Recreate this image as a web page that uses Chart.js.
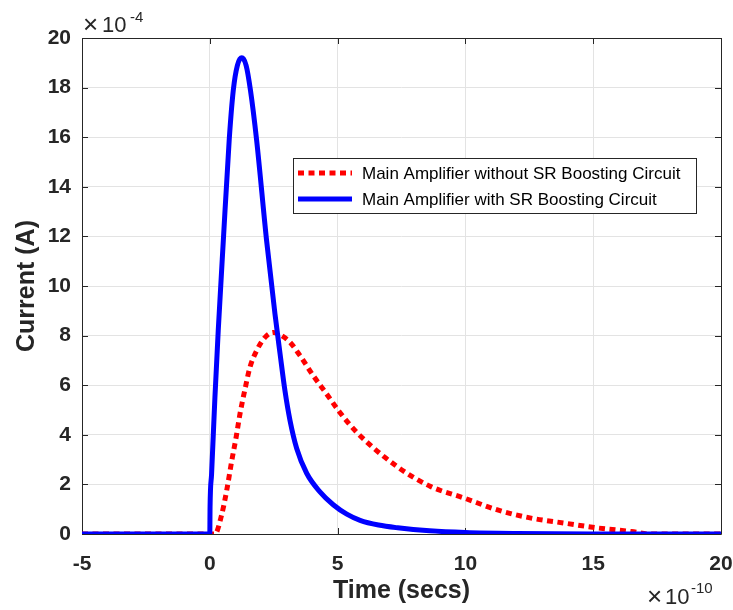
<!DOCTYPE html>
<html>
<head>
<meta charset="utf-8">
<script src="https://cdn.jsdelivr.net/npm/chart.js@4.4.0/dist/chart.umd.js"></script>
<style>
  html, body { margin: 0; padding: 0; background: #fff; }
  canvas { display: block; }
</style>
</head>
<body>
<canvas id="c" width="733" height="610"></canvas>
<script>
// time in units of 1e-10 s, current in units of 1e-4 A
const timeWithout = [-5, 0.2, 0.47, 0.66, 0.86, 1.03, 1.18, 1.38, 1.57, 1.83, 2.16, 2.49, 2.81, 3.14, 3.53, 4.05, 4.57, 5.09, 5.75, 7.34, 8.65, 9.95, 11.26, 12.57, 13.87, 15.2, 16.5, 17.2, 20];
const currentWithout = [0, 0, 0.8, 1.75, 2.96, 3.9, 4.84, 5.85, 6.72, 7.39, 7.93, 8.13, 8.0, 7.73, 7.19, 6.38, 5.65, 4.9, 4.1, 2.71, 1.91, 1.45, 0.97, 0.64, 0.44, 0.24, 0.1, 0, 0];

const timeWith = [-5, 0, 0.01, 0.07, 0.2, 0.33, 0.53, 0.76, 0.92, 1.08, 1.25, 1.42, 1.59, 1.83, 2.22, 2.55, 2.75, 2.94, 3.14, 3.4, 3.79, 4.31, 4.83, 5.36, 5.88, 6.6, 7.35, 8.6, 10, 12, 15, 20];
const currentWith = [0, 0, 1.08, 2.42, 5.5, 8.2, 11.85, 15.9, 17.9, 18.9, 19.2, 18.9, 17.9, 15.9, 11.85, 8.87, 7.26, 5.78, 4.57, 3.45, 2.45, 1.7, 1.18, 0.8, 0.55, 0.36, 0.25, 0.13, 0.06, 0.02, 0, 0];

const seriesLabels = ['Main Amplifier without SR Boosting Circuit', 'Main Amplifier with SR Boosting Circuit'];
const xTicks = [-5, 0, 5, 10, 15, 20];
const yTicks = [0, 2, 4, 6, 8, 10, 12, 14, 16, 18, 20];

const pts = (xs, ys) => xs.map((x, i) => ({ x, y: ys[i] }));
const AX = '#262626';
const FONT = '"Liberation Sans", Arial, Helvetica, sans-serif';

// box, inner ticks, legend and exponent labels, MATLAB style
const matlabBits = {
    id: 'matlabBits',
    beforeDatasetsDraw(chart) {
        const { ctx, chartArea: a, scales: { x, y } } = chart;
        ctx.save();
        ctx.strokeStyle = AX;
        ctx.lineWidth = 1;
        ctx.beginPath();
        ctx.rect(Math.round(a.left) + 0.5, Math.round(a.top) + 0.5, Math.round(a.right - a.left), Math.round(a.bottom - a.top));
        ctx.stroke();
        ctx.beginPath();
        xTicks.forEach((v) => {
            const px = Math.round(x.getPixelForValue(v)) + 0.5;
            ctx.moveTo(px, a.bottom); ctx.lineTo(px, a.bottom - 6);
            ctx.moveTo(px, a.top); ctx.lineTo(px, a.top + 6);
        });
        yTicks.forEach((v) => {
            const py = Math.round(y.getPixelForValue(v)) + 0.5;
            ctx.moveTo(a.left, py); ctx.lineTo(a.left + 6, py);
            ctx.moveTo(a.right, py); ctx.lineTo(a.right - 6, py);
        });
        ctx.stroke();
        ctx.restore();
    },
    afterDatasetsDraw(chart) {
        const { ctx } = chart;
        const bx = 293, by = 158, bw = 403, bh = 55;
        ctx.save();
        ctx.fillStyle = '#fff';
        ctx.fillRect(bx, by, bw, bh);
        ctx.strokeStyle = AX;
        ctx.lineWidth = 1;
        ctx.strokeRect(bx + 0.5, by + 0.5, bw, bh);
        const rows = [173, 199];
        chart.data.datasets.forEach((ds, i) => {
            const ry = rows[i];
            ctx.beginPath();
            ctx.strokeStyle = ds.borderColor;
            ctx.lineWidth = ds.borderWidth;
            ctx.lineCap = 'butt';
            ctx.setLineDash(ds.borderDash || []);
            ctx.moveTo(298, ry); ctx.lineTo(352, ry);
            ctx.stroke();
            ctx.setLineDash([]);
            ctx.fillStyle = '#000';
            ctx.font = `17px ${FONT}`;
            ctx.textBaseline = 'middle';
            ctx.fillText(ds.label, 362, ry + 1);
        });
        ctx.restore();
    },
    afterDraw(chart) {
        const { ctx } = chart;
        ctx.save();
        ctx.fillStyle = AX;
        ctx.textBaseline = 'alphabetic';
        ctx.font = `26px ${FONT}`;
        ctx.fillText('\u00d7', 83, 33);
        ctx.font = `22px ${FONT}`;
        ctx.fillText('10', 102, 32);
        ctx.font = `15px ${FONT}`;
        ctx.fillText('-4', 130, 22);
        ctx.font = `26px ${FONT}`;
        ctx.fillText('\u00d7', 647, 605);
        ctx.font = `22px ${FONT}`;
        ctx.fillText('10', 665, 604);
        ctx.font = `15px ${FONT}`;
        ctx.fillText('-10', 691, 593);
        ctx.restore();
    },
};

new Chart(document.getElementById('c'), {
    type: 'line',
    data: {
        datasets: [
            {
                label: seriesLabels[0],
                data: pts(timeWithout, currentWithout),
                borderColor: '#ff0000',
                borderWidth: 5,
                borderDash: [6, 4.5],
                borderCapStyle: 'butt',
                cubicInterpolationMode: 'monotone',
                pointRadius: 0,
                fill: false,
                order: 2,
            },
            {
                label: seriesLabels[1],
                data: pts(timeWith, currentWith),
                borderColor: '#0000ff',
                borderWidth: 5,
                cubicInterpolationMode: 'monotone',
                pointRadius: 0,
                fill: false,
                order: 1,
            },
        ],
    },
    options: {
        responsive: false,
        animation: false,
        events: [],
        layout: { padding: { top: 38, right: 12, left: 0, bottom: 0 } },
        plugins: { legend: { display: false }, tooltip: { enabled: false } },
        scales: {
            x: {
                type: 'linear', min: -5, max: 20,
                afterBuildTicks: (s) => { s.ticks = xTicks.map((v) => ({ value: v })); },
                afterFit: (s) => { s.height = 76; s.paddingLeft = 0; s.paddingRight = 0; },
                grid: { color: '#e3e3e3', drawTicks: false },
                border: { display: false },
                ticks: { color: AX, padding: 18, maxRotation: 0, font: { family: FONT, size: 21, weight: 'bold' } },
                title: { display: true, text: 'Time (secs)', color: AX, padding: { top: 0, bottom: 4 }, font: { family: FONT, size: 25, weight: 'bold' } },
            },
            y: {
                type: 'linear', min: 0, max: 20,
                afterBuildTicks: (s) => { s.ticks = yTicks.map((v) => ({ value: v })); },
                afterFit: (s) => { s.width = 82; s.paddingTop = 0; s.paddingBottom = 0; },
                grid: { color: '#e3e3e3', drawTicks: false },
                border: { display: false },
                ticks: { color: AX, padding: 11, font: { family: FONT, size: 21, weight: 'bold' } },
                title: { display: true, text: 'Current (A)', color: AX, padding: { top: 12, bottom: 0 }, font: { family: FONT, size: 25, weight: 'bold' } },
            },
        },
    },
    plugins: [matlabBits],
});
</script>
</body>
</html>
